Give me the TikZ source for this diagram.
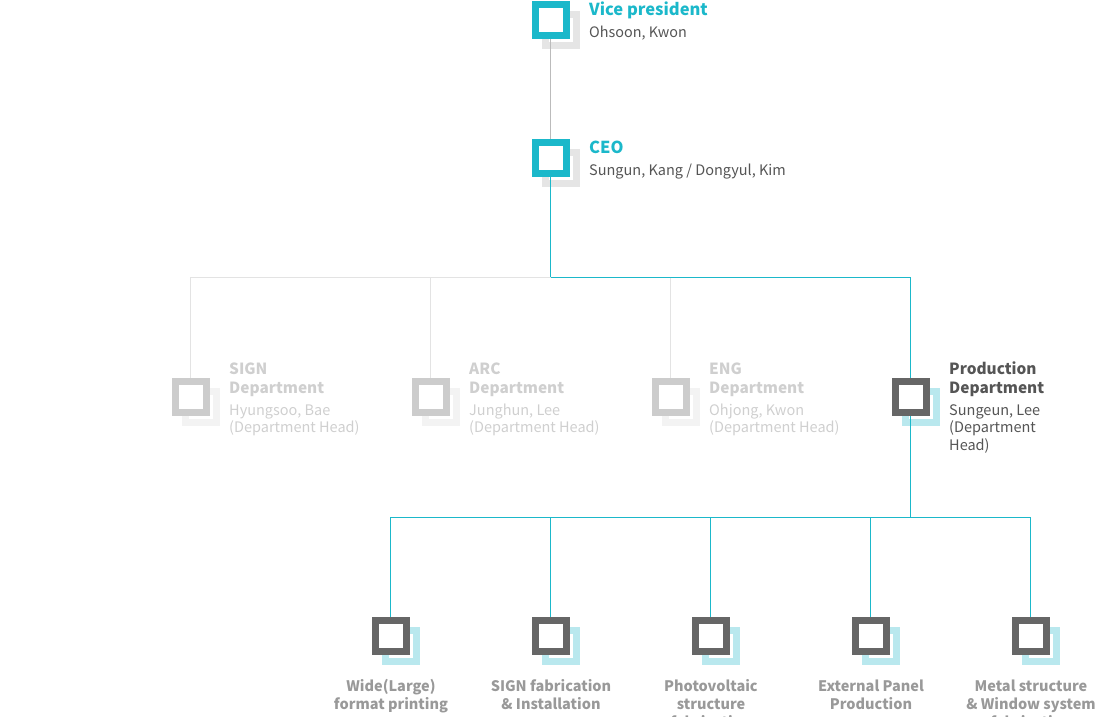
\documentclass[tikz,border=0pt]{standalone}
\usepackage{fontspec}
\setmainfont{Noto Sans CJK KR}
\definecolor{brand}{HTML}{1BB8CA}
\definecolor{dark}{HTML}{666666}
\definecolor{lblue}{HTML}{B9E8EE}
\definecolor{shgray}{HTML}{E5E5E5}
\definecolor{fadefront}{HTML}{CCCCCC}
\definecolor{fadeshadow}{HTML}{F3F3F3}
\definecolor{fadeline}{HTML}{E3E3E3}
\definecolor{vpline}{HTML}{BBBBBB}
\definecolor{txt}{HTML}{555555}
\definecolor{fadetxt}{HTML}{CFCFCF}
\definecolor{bottxt}{HTML}{999999}
\tikzset{
  sq/.style={draw, line width=7pt, minimum size=31pt, inner sep=0pt, outer sep=0pt, fill=white},
  shd/.style={draw, line width=7pt, minimum size=31pt, inner sep=0pt, outer sep=0pt},
  conn/.style={line width=1pt},
  lbl/.style={anchor=base west, inner sep=0pt, align=left},
  blbl/.style={anchor=base, inner sep=0pt, align=center, font=\bfseries\fontsize{14.5}{18}\selectfont, text=bottxt},
}
\begin{document}
\begin{tikzpicture}[x=1pt,y=-1pt]
\useasboundingbox (0,0) rectangle (1100,716);
\clip (0,0) rectangle (1100,716);
% shadows
\node[shd, draw=shgray] (vps) at (561,30) {};
\node[shd, draw=shgray] (ceos) at (561,168) {};
\node[shd, draw=fadeshadow] (d1s) at (201,407) {};
\node[shd, draw=fadeshadow] (d2s) at (441,407) {};
\node[shd, draw=fadeshadow] (d3s) at (681,407) {};
\node[shd, draw=lblue] (d4s) at (921,407) {};
\foreach \i/\x in {1/391,2/551,3/711,4/871,5/1031}{
  \node[shd, draw=lblue] (b\i s) at (\x+10,646) {};
}
% coordinates for buses
\coordinate (bus1) at (550.5,277.5);
\coordinate (busL) at (190.5,277.5);
\coordinate (busR) at (910.5,277.5);
\coordinate (bus2) at (910.5,517.5);
\path
  (550.5,20) coordinate (vpc)
  (550.5,158) coordinate (ceoc);
% connectors
\draw[conn, draw=vpline] (vpc) -- (ceoc);
\draw[conn, draw=brand] (ceoc) -- (bus1) -- (busR) -- (910.5,397);
\draw[conn, draw=fadeline] (bus1) -- (busL) -- (190.5,397);
\draw[conn, draw=fadeline] (430.5,277.5) -- (430.5,397);
\draw[conn, draw=fadeline] (670.5,277.5) -- (670.5,397);
\draw[conn, draw=brand] (910.5,397) -- (bus2);
\draw[conn, draw=brand] (390.5,636) -- (390.5,517.5) -- (1030.5,517.5) -- (1030.5,636);
\foreach \x in {550.5,710.5,870.5}{
  \draw[conn, draw=brand] (\x,517.5) -- (\x,636);
}
% front squares
\node[sq, draw=brand] (vp) at (551,20) {};
\node[sq, draw=brand] (ceo) at (551,158) {};
\node[sq, draw=fadefront] (d1) at (191,397) {};
\node[sq, draw=fadefront] (d2) at (431,397) {};
\node[sq, draw=fadefront] (d3) at (671,397) {};
\node[sq, draw=dark] (d4) at (911,397) {};
\foreach \i/\x in {1/391,2/551,3/711,4/871,5/1031}{
  \node[sq, draw=dark] (b\i) at (\x,636) {};
}
% texts
\node[lbl, text=brand, font=\bfseries\fontsize{16.5}{20}\selectfont] (vpt) at (589,15) {Vice president};
\node[lbl, text=txt, font=\fontsize{14.4}{18}\selectfont] (vpn) at (589,37) {Ohsoon, Kwon};
\node[lbl, text=brand, font=\bfseries\fontsize{16.5}{20}\selectfont] (ceot) at (589,153) {CEO};
\node[lbl, text=txt, font=\fontsize{14.5}{18}\selectfont] (ceon) at (589,175) {Sungun, Kang / Dongyul, Kim};
\foreach \n/\x/\t/\p in {1/229/SIGN/{Hyungsoo, Bae},2/469/ARC/{Junghun, Lee},3/709/ENG/{Ohjong, Kwon}}{
  \node[lbl, text=fadetxt, font=\bfseries\fontsize{15.4}{19}\selectfont] (d\n t) at (\x,393) {\t\\Department};
  \node[lbl, text=fadetxt, font=\fontsize{14.5}{17.5}\selectfont] (d\n n) at (\x,432.5) {\p\\(Department Head)};
}
\node[lbl, text=txt, font=\bfseries\fontsize{15.4}{19}\selectfont] (d4t) at (949,393) {Production\\Department};
\node[lbl, text=txt, font=\fontsize{14.5}{17.5}\selectfont] (d4n) at (949,450) {Sungeun, Lee\\(Department\\Head)};
\node[blbl] (b1t) at (391,709) {Wide(Large)\\format printing};
\node[blbl] (b2t) at (551,709) {SIGN fabrication\\\& Installation};
\node[blbl] (b3t) at (711,727) {Photovoltaic\\structure\\fabrication};
\node[blbl] (b4t) at (871,709) {External Panel\\Production};
\node[blbl] (b5t) at (1031,727) {Metal structure\\\& Window system\\fabrication};
\end{tikzpicture}
\end{document}
